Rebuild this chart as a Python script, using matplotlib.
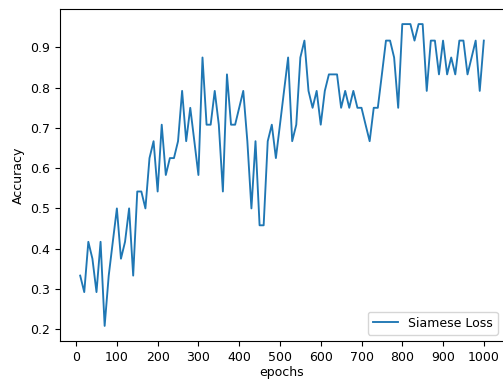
import matplotlib
matplotlib.use("Agg")
import matplotlib.pyplot as plt
import numpy as np

epochs = list(range(10, 1001, 10))

accuracy = [
    0.333, 0.292, 0.417, 0.375, 0.292, 0.417, 0.208, 0.333, 0.417, 0.500,
    0.375, 0.417, 0.500, 0.333, 0.542, 0.542, 0.500, 0.625, 0.667, 0.542,
    0.708, 0.583, 0.625, 0.625, 0.667, 0.792, 0.667, 0.750, 0.667, 0.583,
    0.875, 0.708, 0.708, 0.792, 0.708, 0.542, 0.833, 0.708, 0.708, 0.750,
    0.792, 0.667, 0.500, 0.667, 0.458, 0.458, 0.667, 0.708, 0.625, 0.708,
    0.792, 0.875, 0.667, 0.708, 0.875, 0.917, 0.792, 0.750, 0.792, 0.708,
    0.792, 0.833, 0.833, 0.833, 0.750, 0.792, 0.750, 0.792, 0.750, 0.750,
    0.708, 0.667, 0.750, 0.750, 0.833, 0.917, 0.917, 0.875, 0.750, 0.958,
    0.958, 0.958, 0.917, 0.958, 0.958, 0.792, 0.917, 0.917, 0.833, 0.917,
    0.833, 0.875, 0.833, 0.917, 0.917, 0.833, 0.875, 0.917, 0.792, 0.917,
]

plt.rcParams["font.size"] = 9

fig = plt.figure(figsize=(5.03, 3.80), dpi=100)
ax = fig.add_axes([60 / 503, 1 - 341 / 380, 444 / 503, 332 / 380])

ax.plot(epochs, accuracy, color="#1f77b4", linewidth=1.35, label="Siamese Loss")
ax.set_xticks(range(0, 1001, 100))
ax.set_xlabel("epochs", labelpad=1.5)
ax.set_ylabel("Accuracy")
ax.legend(loc="lower right")

fig.savefig("out.png", dpi=100)
